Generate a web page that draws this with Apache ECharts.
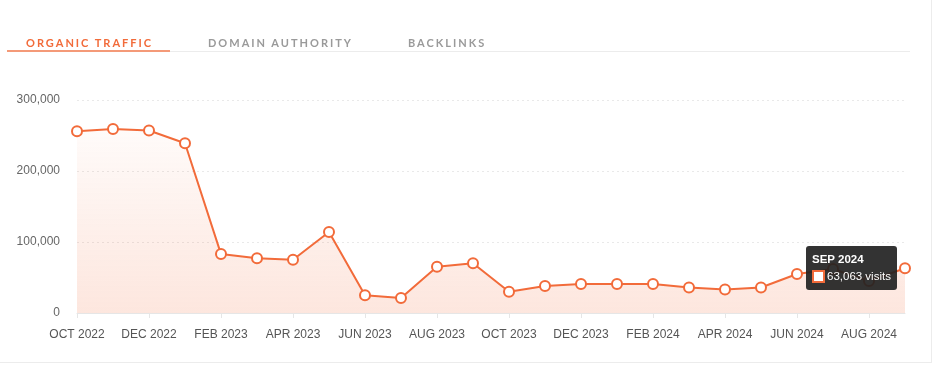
<!DOCTYPE html>
<html><head><meta charset="utf-8">
<script src="https://cdn.jsdelivr.net/npm/echarts@6/dist/echarts.min.js"></script>
<style>
html,body{margin:0;padding:0;background:#fff;width:941px;height:371px;overflow:hidden;}
#card{position:absolute;left:-1px;top:0;width:932px;height:362px;border-right:1px solid #ececec;border-bottom:1px solid #ececec;}
#tabs{position:absolute;left:0;top:0;width:941px;height:60px;font-family:Lato,"Open Sans",sans-serif;font-weight:700;font-size:11px;letter-spacing:2px;}
.tab{position:absolute;top:36px;}
#tabline{position:absolute;left:170px;top:51px;width:740px;height:1px;background:#ececec;}
#tabul{position:absolute;left:7px;top:50px;width:163px;height:2px;background:#f49a78;}
#chart{position:absolute;left:0;top:0;width:941px;height:371px;}
</style></head>
<body>
<div id="card"></div>
<div id="chart"></div>
<div id="tabs">
  <div class="tab" style="left:26px;color:#f26b3a;">ORGANIC TRAFFIC</div>
  <div class="tab" style="left:208px;color:#9a9a9a;">DOMAIN AUTHORITY</div>
  <div class="tab" style="left:408px;color:#9a9a9a;">BACKLINKS</div>
  <div id="tabline"></div>
  <div id="tabul"></div>
</div>
<script>
const months = ["OCT 2022","NOV 2022","DEC 2022","JAN 2023","FEB 2023","MAR 2023","APR 2023","MAY 2023","JUN 2023","JUL 2023","AUG 2023","SEP 2023","OCT 2023","NOV 2023","DEC 2023","JAN 2024","FEB 2024","MAR 2024","APR 2024","MAY 2024","JUN 2024","JUL 2024","AUG 2024","SEP 2024"];
const visits = [256000,259000,257000,239000,83000,77000,75000,114000,25000,21000,65000,70000,30000,38000,41000,41000,41000,36000,33000,36000,55000,62000,45000,63063];
const yTicks = [0,100000,200000,300000];

const chart = echarts.init(document.getElementById('chart'));
const orange = '#f26b3a';
chart.setOption({
  animation:false,
  grid:{left:77,right:36,top:100,bottom:58},
  tooltip:{
    trigger:'item',triggerOn:'none',alwaysShowContent:true,
    backgroundColor:'rgba(34,34,34,0.92)',borderWidth:0,padding:[5,6],
    extraCssText:'border-radius:3px;box-shadow:none;',
    position:function(){return [806,246];},
    formatter:function(p){
      return '<div style="font-family:Liberation Sans,Arial,sans-serif;color:#fff;font-size:11.5px;line-height:17px;">'+
        '<div style="font-weight:700;">'+p.name+'</div>'+
        '<div><span style="display:inline-block;width:9px;height:9px;background:#fff;border:2px solid '+orange+';vertical-align:-3px;margin-right:2px;"></span>'+
        p.value.toLocaleString('en-US')+' visits</div></div>';
    }
  },
  xAxis:{
    type:'category',data:months,boundaryGap:false,
    axisLine:{lineStyle:{color:'#e6e6e6'}},
    axisTick:{interval:1,length:5,lineStyle:{color:'#e6e6e6'}},
    axisLabel:{interval:1,color:'#555',fontFamily:'Liberation Sans Narrow, Liberation Sans, sans-serif',fontSize:12,margin:16}
  },
  yAxis:{
    type:'value',min:0,max:300000,interval:100000,
    axisLine:{show:false},axisTick:{show:false},
    axisLabel:{color:'#666',fontFamily:'Liberation Sans, Arial, sans-serif',fontSize:12,margin:17,
      formatter:function(v){return yTicks.indexOf(v)>=0 ? v.toLocaleString('en-US') : '';}},
    splitLine:{lineStyle:{color:'#e9e9e9',type:[2,3]}}
  },
  series:[{
    type:'line',data:visits,
    symbol:'circle',symbolSize:10,
    itemStyle:{color:'#fff',borderColor:orange,borderWidth:2},
    lineStyle:{color:orange,width:2},
    areaStyle:{color:new echarts.graphic.LinearGradient(0,0,0,1,[{offset:0,color:'rgba(242,107,58,0.04)'},{offset:1,color:'rgba(242,107,58,0.24)'}])},
    emphasis:{disabled:true}
  }]
});
chart.dispatchAction({type:'showTip',seriesIndex:0,dataIndex:23});
</script>
</body></html>
